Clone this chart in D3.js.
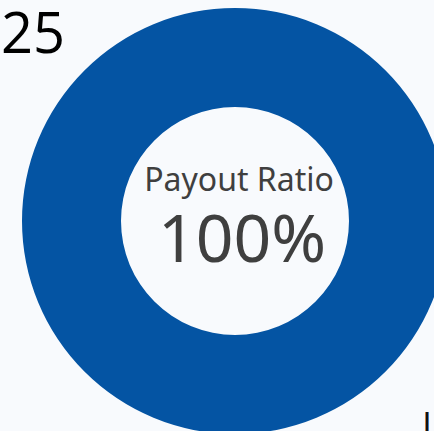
<!DOCTYPE html>
<html>
<head>
<meta charset="utf-8">
<script src="https://cdn.jsdelivr.net/npm/d3@7"></script>
<style>
	html, body { margin: 0; padding: 0; background: #f8fafd; overflow: hidden; }
	svg { display: block; }
</style>
</head>
<body>
<svg id="chart"></svg>
<script>
// ========== DATA ==========
var categories = ['Payout Ratio'];
var values = [100];
var year_label = '25';
var corner_label = 'L';

makeChart();

function makeChart() {
	var width = 434;
	var height = 431;
	var blue = '#0454a3';
	var text_color = '#3f3f3f';
	var cx = 235;
	var cy = 221;
	var outer = 213;
	var inner = 114;

	var svg = d3.select('#chart')
		.attr('width', width)
		.attr('height', height);

	svg.append('rect')
		.attr('width', width)
		.attr('height', height)
		.attr('fill', '#f8fafd');

	var pie = d3.pie().sort(null).value(function(d) { return d; });
	var arc = d3.arc().innerRadius(inner).outerRadius(outer);

	var g = svg.append('g')
		.attr('transform', 'translate(' + cx + ',' + cy + ')');

	g.selectAll('path')
		.data(pie(values)).enter().append('path')
			.attr('d', arc)
			.attr('fill', blue);

	// center labels
	g.append('text')
		.attr('text-anchor', 'middle')
		.attr('x', 4)
		.attr('y', -30)
		.attr('fill', text_color)
		.style('font-family', '"Noto Sans", "Open Sans", sans-serif')
		.style('font-size', '32px')
		.text(categories[0]);

	g.append('text')
		.attr('text-anchor', 'middle')
		.attr('x', 7)
		.attr('y', 41)
		.attr('fill', text_color)
		.style('font-family', '"Noto Sans", "Open Sans", sans-serif')
		.style('font-size', '66px')
		.text(values[0] + '%');

	// cut-off labels at the edges
	svg.append('text')
		.attr('x', 1)
		.attr('y', 53)
		.attr('fill', '#000')
		.style('font-family', '"Open Sans", "Noto Sans", sans-serif')
		.style('font-size', '56px')
		.text(year_label);

	svg.append('text')
		.attr('x', 422)
		.attr('y', 438)
		.attr('fill', '#111')
		.style('font-family', '"Open Sans", "Noto Sans", sans-serif')
		.style('font-size', '36px')
		.text(corner_label);
}
</script>
</body>
</html>
